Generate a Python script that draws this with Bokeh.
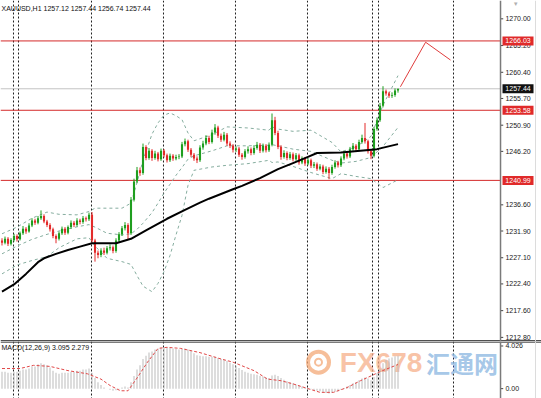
from bokeh.plotting import figure
from bokeh.layouts import column
from bokeh.models import Range1d, Span, Label
from bokeh.core.properties import value
from bokeh.embed import file_html
from bokeh.resources import INLINE

# ---------------- data ----------------
title_text = "XAUUSD,H1  1257.12 1257.44 1256.74 1257.44"
first_open = 1230.2
closes = [1229.8,1230.5,1229.6,1230.3,1231.0, 1230.4,1231.5,1232.3,1231.8,1232.9,
          1233.8,1233.4,1234.2,1234.6,1233.6, 1233.0,1232.2,1231.0,1230.5,1231.5,
          1232.3,1231.6,1232.6,1233.4,1233.0, 1233.8,1233.5,1234.2,1234.0,1234.8,
          1230.2,1228.0,1227.6,1228.4,1228.0, 1228.8,1229.0,1228.3,1230.2,1231.3,
          1232.4,1233.0,1231.5,1237.5,1240.8, 1242.8,1242.3,1247.0,1245.0,1246.3,
          1245.0,1245.8,1244.8,1246.3,1245.5, 1244.6,1245.4,1244.9,1245.2,1245.3,
          1247.5,1248.0,1246.5,1245.6,1244.9, 1244.6,1246.9,1247.6,1248.6,1247.9,
          1249.6,1250.5,1249.0,1248.3,1249.2, 1247.6,1247.2,1246.5,1246.7,1245.6,
          1245.2,1246.2,1246.6,1245.9,1246.8, 1247.4,1246.3,1247.2,1246.4,1247.4,
          1251.8,1249.5,1247.0,1245.2,1245.9, 1245.0,1245.7,1244.8,1245.5,1244.2,
          1244.9,1244.0,1244.6,1243.6,1243.9, 1243.1,1243.5,1242.5,1243.1,1242.3,
          1243.4,1244.2,1243.7,1244.9,1245.8, 1245.3,1246.6,1247.2,1246.6,1247.9,
          1248.6,1248.0,1246.2,1245.4,1250.2, 1251.8,1254.4,1257.0,1256.6,1256.2,
          1256.3,1257.12,1257.44]
highs = [1230.6,1230.9,1230.8,1230.6,1231.4, 1231.3,1231.8,1232.8,1232.6,1233.3,
         1234.2,1234.1,1234.6,1235.6,1234.9, 1233.9,1233.3,1232.5,1231.3,1231.8,
         1232.7,1232.6,1232.9,1233.8,1233.7, 1234.2,1234.1,1234.6,1234.5,1235.2,
         1235.3,1230.5,1228.4,1228.8,1228.9, 1229.2,1229.5,1229.3,1230.6,1231.7,
         1232.8,1233.5,1233.3,1238.0,1241.3, 1243.4,1243.3,1247.6,1247.3,1246.8,
         1246.6,1246.3,1246.1,1246.7,1246.6, 1245.8,1245.8,1245.7,1245.6,1245.7,
         1247.9,1248.5,1248.3,1246.8,1245.9, 1245.3,1247.3,1248.1,1249.1,1249.0,
         1250.1,1251.1,1250.8,1249.4,1249.7, 1249.5,1248.0,1247.5,1247.1,1247.0,
         1245.9,1246.6,1247.1,1246.9,1247.3, 1247.9,1247.7,1247.6,1247.5,1247.8,
         1253.0,1252.4,1249.9,1247.3,1246.4, 1246.2,1246.1,1246.0,1245.9,1245.8,
         1245.3,1245.2,1245.0,1244.9,1244.3, 1244.2,1243.9,1243.8,1243.5,1243.4,
         1243.8,1244.6,1244.5,1245.3,1246.3, 1246.1,1247.0,1247.7,1247.5,1248.3,
         1249.2,1251.3,1248.3,1246.6,1250.6, 1252.3,1254.9,1257.9,1257.3,1256.9,
         1256.8,1257.5,1257.44]
lows = [1229.3,1229.5,1229.2,1229.3,1230.0, 1230.0,1230.2,1231.2,1231.4,1231.6,
        1232.6,1233.0,1233.1,1233.9,1233.3, 1232.6,1231.8,1230.6,1229.7,1230.2,
        1231.2,1231.2,1231.3,1232.3,1232.6, 1232.7,1233.1,1233.2,1233.6,1233.7,
        1229.8,1226.4,1227.0,1227.2,1227.6, 1227.7,1228.4,1227.9,1228.0,1229.9,
        1231.0,1232.0,1230.4,1231.2,1237.2, 1240.5,1241.8,1242.0,1244.6,1244.7,
        1244.5,1244.7,1244.4,1244.5,1245.1, 1244.2,1244.3,1244.5,1244.6,1244.8,
        1245.0,1247.1,1246.1,1245.2,1244.5, 1244.1,1244.3,1246.5,1247.3,1247.5,
        1247.6,1249.2,1248.6,1247.9,1248.0, 1247.2,1246.8,1246.0,1246.1,1245.2,
        1244.7,1244.9,1245.8,1245.5,1245.6, 1246.5,1245.9,1246.0,1246.0,1246.1,
        1247.1,1249.1,1246.6,1244.7,1244.9, 1244.6,1244.7,1244.4,1244.5,1243.8,
        1243.9,1243.6,1243.7,1243.2,1243.2, 1242.7,1242.8,1242.1,1242.2,1241.2,
        1242.0,1243.1,1243.3,1243.4,1244.6, 1244.9,1245.0,1246.3,1246.2,1246.3,
        1247.6,1247.6,1245.8,1244.8,1245.1, 1249.9,1251.5,1254.1,1256.2,1255.8,
        1255.8,1256.0,1256.74]

# moving average (black), read at sample bars
ma_x = [0, 4, 8, 12, 14, 18, 22, 26, 30, 38, 43, 48, 55, 61, 66, 69, 77, 80, 86, 92, 97, 102, 105, 113, 125, 132]
ma_y = [1221.0, 1222.3, 1224.2, 1226.3, 1227.0, 1227.8, 1228.5, 1229.1, 1229.7, 1229.7, 1230.5, 1232.0,
        1234.1, 1235.7, 1237.0, 1237.7, 1239.4, 1240.0, 1241.4, 1243.0, 1244.1, 1245.2, 1245.9, 1246.0,
        1246.6, 1247.5]

# Bollinger bands (dashed), read at sample bars
bb_x = [0, 5, 10, 15, 19, 25, 29, 31, 35, 40, 43, 45, 47, 50, 52, 54, 56, 58, 60, 62, 64, 70, 75, 82, 89,
        90, 92, 97, 103, 110, 113, 118, 123, 127, 132]
bb_up = [1231.4, 1232.6, 1234.2, 1235.3, 1234.9, 1234.8, 1235.4, 1236.0, 1236.0, 1236.0, 1236.9, 1240.6,
         1244.6, 1249.3, 1251.3, 1252.7, 1253.1, 1252.6, 1251.9, 1249.5, 1248.1, 1249.2, 1250.6, 1250.4,
         1250.0, 1250.6, 1250.2, 1249.8, 1250.0, 1247.8, 1246.1, 1247.0, 1248.9, 1254.5, 1259.8]
bb_mid = [1227.8, 1229.2, 1230.4, 1231.3, 1231.9, 1232.65, 1233.05, 1232.6, 1231.5, 1231.2, 1231.4, 1232.2,
          1233.3, 1235.2, 1236.9, 1238.7, 1240.3, 1241.9, 1243.3, 1244.8, 1245.4, 1246.3, 1247.2, 1247.2,
          1247.3, 1247.4, 1247.2, 1246.6, 1246.2, 1244.6, 1244.1, 1244.4, 1245.1, 1247.1, 1250.5]
bb_lo = [1224.2, 1225.8, 1226.6, 1227.3, 1228.9, 1230.5, 1230.7, 1229.2, 1227.0, 1226.4, 1225.9, 1223.9,
         1222.0, 1221.0, 1222.5, 1224.6, 1227.5, 1231.2, 1234.7, 1240.1, 1242.8, 1243.4, 1243.7, 1244.0,
         1244.6, 1244.2, 1244.3, 1243.5, 1242.4, 1241.3, 1242.2, 1241.7, 1241.3, 1239.7, 1241.1]

# horizontal levels
red_levels = [1266.03, 1253.58, 1240.99]
bid_level = 1257.44
# forecast path
forecast_x = [132.8, 141.2, 149.5]
forecast_y = [1257.8, 1265.8, 1262.6]
# day separators (bar positions)
separators = [3.83, 5.5, 29.83, 53.83, 77.83, 101.83, 123.5, 125.5, 150.5]
# price scale ticks
price_ticks = [1270.0, 1265.2, 1260.4, 1255.7, 1250.9, 1246.2, 1236.6, 1231.9, 1227.1, 1222.4, 1217.6, 1212.8]

# MACD(12,26,9)
macd = [1.6,1.6,1.5,1.5,1.6, 1.6,1.7,1.8,1.8,1.9, 2.1,2.1,2.3,2.4,2.3, 2.2,2.0,1.7,1.5,1.4,
        1.5,1.5,1.5,1.6,1.6, 1.7,1.7,1.8,1.8,1.9, 1.5,1.0,0.6,0.35,0.1, 0.0,-0.1,-0.2,-0.15,-0.05,
        0.1,0.2,0.1,0.6,1.2, 1.8,2.2,2.8,3.1,3.4, 3.5,3.7,3.75,3.85,3.9, 3.9,3.85,3.8,3.75,3.7,
        3.75,3.8,3.7,3.55,3.35, 3.15,3.1,3.05,3.05,3.0, 3.0,3.0,2.9,2.8,2.75, 2.6,2.45,2.3,2.15,1.95,
        1.75,1.6,1.5,1.4,1.35, 1.3,1.2,1.15,1.05,1.0, 1.25,1.3,1.2,1.0,0.85, 0.7,0.6,0.5,0.4,0.3,
        0.2,0.1,0.05,-0.05,-0.15, -0.2,-0.25,-0.35,-0.4,-0.45, -0.4,-0.3,-0.25,-0.1,0.05,
        0.2,0.35,0.5,0.6,0.8, 0.95,1.05,0.95,0.8,1.1, 1.45,1.9,2.4,2.7,2.85, 2.95,3.05,3.095]
sig_x = [0, 6, 10.5, 16, 22, 28.5, 33, 36, 39.5, 42, 45, 48.5, 52, 55, 59.5, 66, 73, 77, 84, 88.5,
         93, 97, 102, 106, 110.5, 115, 119.5, 123, 126, 132]
sig_y = [1.9, 1.9, 2.2, 2.1, 1.7, 1.4, 0.9, 0.3, -0.2, -0.2, 1.0, 2.5, 3.8, 3.9, 3.8, 3.4, 2.8, 2.5, 1.7, 0.9,
         0.75, 0.45, 0.0, -0.35, -0.35, 0.1, 0.75, 1.2, 1.6, 2.279]
macd_text = "MACD(12,26,9) 3.095 2.279"
macd_ticks = [0.0, 4.026]
macd_tick_labels = ["0.00", "4.026"]

# ---------------- derived ----------------
bars = list(range(len(closes)))
opens = [first_open] + closes[:-1]
tops = [max(o, c) for o, c in zip(opens, closes)]
bots = [min(o, c) for o, c in zip(opens, closes)]
UP, DN = "#1f9e1f", "#e32b2b"
cols = [UP if c >= o else DN for o, c in zip(opens, closes)]

FONT = "Liberation Sans"
AXIS_X = 166.17        # right edge of the chart area (bar units)
LABEL_X = 167.8        # tick label start
BOX_X = 172.0          # centre of the level boxes
X_END = 179.83
xr = Range1d(-0.5, X_END)


def price_scale(fig, ticks, labels, boxes):
    fig.add_layout(Span(location=AXIS_X, dimension="height", line_color="#7a7a7a", line_width=1.5))
    fig.add_layout(Span(location=177.83, dimension="height", line_color="#dcdcdc", line_width=1))
    fig.segment(x0=[AXIS_X] * len(ticks), y0=ticks, x1=[AXIS_X + 0.9] * len(ticks), y1=ticks,
                line_color="#404040", line_width=1)
    fig.text(x=[LABEL_X] * len(ticks), y=ticks, text=labels, text_font=value(FONT),
             text_font_size=value("7px"), text_color="#202020", text_baseline="middle",
             text_align="left")
    for lv, txt, bg in boxes:
        fig.rect(x=[BOX_X], y=[lv], width=31, height=9, width_units="screen", height_units="screen",
                 fill_color=bg, line_color=None)
        fig.text(x=[BOX_X], y=[lv], text=[txt], text_font=value(FONT), text_font_size=value("7px"),
                 text_color="white", text_baseline="middle", text_align="center")


# ---------------- main price panel ----------------
p = figure(width=541, height=341, x_range=xr, y_range=Range1d(1212.06, 1273.29),
           x_axis_location=None, y_axis_location=None, toolbar_location=None,
           output_backend="svg", min_border_left=0, min_border_right=0,
           min_border_top=0, min_border_bottom=0, outline_line_color=None,
           background_fill_color="white", border_fill_color="white")
p.grid.visible = False

for s in separators:
    p.add_layout(Span(location=s, dimension="height", line_color="#202020",
                      line_width=1, line_dash="2 2", level="underlay"))
p.segment(x0=[-0.5] * len(red_levels), y0=red_levels, x1=[AXIS_X] * len(red_levels), y1=red_levels,
          line_color="#d42a2a", line_width=1)
p.segment(x0=[-0.5], y0=[bid_level], x1=[AXIS_X], y1=[bid_level], line_color="#c4c4c4", line_width=1)
p.add_layout(Span(location=1212.2, dimension="width", line_color="#505050", line_width=1.5))

for band in (bb_up, bb_mid, bb_lo):
    p.line(bb_x, band, line_color="#86ad9f", line_width=1, line_dash="3 3")

p.segment(x0=bars, y0=lows, x1=bars, y1=highs, line_color=cols, line_width=1)
p.vbar(x=bars, width=0.7, top=tops, bottom=bots, fill_color=cols, line_color=None)

p.line(ma_x, ma_y, line_color="black", line_width=2)
p.line(forecast_x, forecast_y, line_color="#e03c3c", line_width=1)

p.add_layout(Label(x=-0.5, y=1271.8, x_offset=1, text=title_text, text_font=FONT,
                   text_font_size="7px", text_color="#101010", text_baseline="middle"))

boxes = [(lv, f"{lv:.2f}", "#e02a2a") for lv in red_levels] + [(bid_level, f"{bid_level:.2f}", "#111111")]
price_scale(p, price_ticks, [f"{t:.2f}" for t in price_ticks], boxes)
p.text(x=[171.2], y=[1272.6], text=["\u25bc"], text_font=value(FONT), text_font_size=value("6px"),
       text_color="#b0b0b0", text_baseline="middle", text_align="center")

# ---------------- MACD panel ----------------
m = figure(width=541, height=57, x_range=xr, y_range=Range1d(-0.93, 4.45),
           x_axis_location=None, y_axis_location=None, toolbar_location=None,
           output_backend="svg", min_border_left=0, min_border_right=0,
           min_border_top=0, min_border_bottom=0, outline_line_color=None,
           background_fill_color="white", border_fill_color="white")
m.grid.visible = False

for s in separators:
    m.add_layout(Span(location=s, dimension="height", line_color="#202020",
                      line_width=1, line_dash="2 2", level="underlay"))
m.add_layout(Span(location=4.41, dimension="width", line_color="#505050", line_width=1.5))

# watermark
m.scatter([105.5], [2.5], marker="circle", size=21, fill_color=None,
          line_color="#f3a877", line_width=4, line_alpha=0.75)
m.scatter([105.5], [2.5], marker="circle", size=7, fill_color=None,
          line_color="#f3a877", line_width=2, line_alpha=0.75)
m.text(x=[112.6], y=[2.5], text=["FX678"], text_font=value(FONT), text_font_size=value("28px"),
       text_font_style="bold", text_color="#f6b08a", text_alpha=0.75,
       text_baseline="middle", text_align="left")
m.text(x=[141.3], y=[2.5], text=["汇通网"], text_font=value("Noto Sans CJK SC"),
       text_font_size=value("24px"), text_font_style="bold", text_color="#8fb9e2",
       text_alpha=0.8, text_baseline="middle", text_align="left")

m.vbar(x=bars, width=0.34, top=macd, bottom=0, fill_color="#bdbdbd", line_color=None)
m.line(sig_x, sig_y, line_color="#e04848", line_width=1, line_dash="3 2")

m.add_layout(Label(x=-0.5, y=3.85, x_offset=1, text=macd_text, text_font=FONT,
                   text_font_size="7px", text_color="#101010", text_baseline="middle"))
price_scale(m, macd_ticks, macd_tick_labels, [])

layout = column(p, m, spacing=0)
open("out.html", "w").write(file_html(layout, INLINE))
